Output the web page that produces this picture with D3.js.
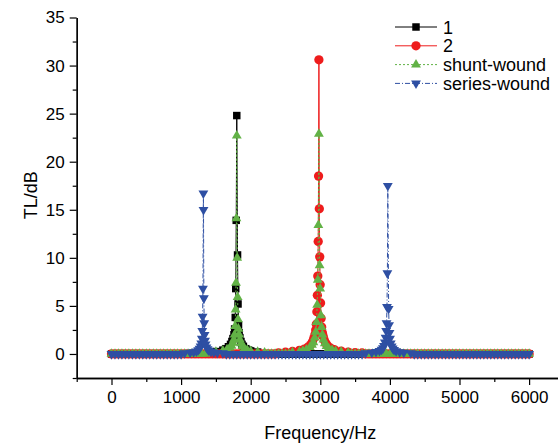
<!DOCTYPE html>
<html>
<head>
<meta charset="utf-8">
<script src="https://cdn.jsdelivr.net/npm/d3@7"></script>
<style>
  body { margin: 0; background: #fff; }
  text { font-family: "Liberation Sans", Arial, sans-serif; fill: #000; }
</style>
</head>
<body>
<div id="chart"></div>
<script>
// sampling grid of the flat part of every curve (Hz)
var baseFreq = [0,50,100,150,200,250,300,350,400,450,500,550,600,650,700,750,800,850,900,950,
  1000,1050,1100,1150,1200,1250,1300,1350,1400,1450,1500,1550,1600,1650,1700,1750,1800,1850,1900,1950,
  2000,2050,2100,2150,2200,2250,2300,2350,2400,2450,2500,2550,2600,2650,2700,2750,2800,2850,2900,2950,
  3000,3050,3100,3150,3200,3250,3300,3350,3400,3450,3500,3550,3600,3650,3700,3750,3800,3850,3900,3950,
  4000,4050,4100,4150,4200,4250,4300,4350,4400,4450,4500,4550,4600,4650,4700,4750,4800,4850,4900,4950,
  5000,5050,5100,5150,5200,5250,5300,5350,5400,5450,5500,5550,5600,5650,5700,5750,5800,5850,5900,5950,6000];
var baseTL = 0;

// series "1"
var freq1 = [1500,1600,1640,1680,1710,1730,1745,1760,1769,1778,1785,1792,1800,1811,1818,1825,1834,1845,1860,1875,1895,1930,1970,2000,2100];
var tl1   = [0.25,0.4,0.55,0.75,1.0,1.3,1.6,2.0,2.6,3.8,6.8,13.9,24.8,10.3,5.2,3.0,2.2,1.7,1.3,1.0,0.8,0.55,0.4,0.32,0.2];

// series "2"
var freq2 = [2400,2500,2600,2700,2770,2820,2860,2885,2905,2922,2934,2943,2951,2958,2964,2970,2975,2980,2986,2992,2998,3004,3011,3020,3030,3043,3060,3085,3110,3150,3200,3300,3400,3500,3600];
var tl2   = [0.12,0.18,0.26,0.38,0.5,0.7,0.95,1.25,1.6,2.0,2.5,3.1,4.4,6.1,8.1,11.7,18.5,30.6,15.1,10.1,7.2,5.3,3.7,2.8,2.2,1.8,1.4,1.05,0.8,0.6,0.45,0.3,0.2,0.14,0.1];

// shunt-wound, two resonances
var freq3a = [1400,1500,1600,1660,1700,1725,1745,1758,1768,1776,1783,1789,1795,1800,1806,1812,1818,1825,1833,1845,1860,1880,1910,1950,2000,2100,2200];
var tl3a   = [0.15,0.22,0.33,0.48,0.65,0.85,1.15,1.5,2.0,2.9,4.6,7.4,14.1,22.7,10.0,5.9,3.6,2.6,2.0,1.5,1.1,0.8,0.6,0.42,0.3,0.2,0.14];
var freq3b = [2600,2700,2750,2800,2850,2880,2900,2920,2935,2946,2955,2964,2972,2980,2990,2998,3008,3018,3030,3045,3065,3090,3120,3170,3220,3300,3400];
var tl3b   = [0.15,0.25,0.32,0.45,0.7,0.95,1.2,1.7,2.3,3.3,5.1,7.7,13.4,22.9,9.2,6.8,4.0,2.8,2.0,1.5,1.1,0.8,0.6,0.42,0.3,0.2,0.14];

// series-wound, two resonances
var freq4a = [1050,1130,1180,1220,1245,1265,1280,1290,1298,1304,1309,1314,1320,1322,1327,1332,1337,1344,1352,1364,1380,1400,1430,1470,1520,1600];
var tl4a   = [0.1,0.14,0.2,0.28,0.4,0.55,0.8,1.1,1.6,2.4,3.9,6.8,16.7,15.0,5.8,3.2,2.0,1.4,1.0,0.7,0.5,0.35,0.25,0.18,0.12,0.1];
var freq4b = [3650,3740,3800,3850,3880,3900,3915,3928,3938,3946,3952,3958,3964,3970,3982,3988,3994,4002,4012,4025,4040,4060,4090,4140,4200,4300];
var tl4b   = [0.1,0.15,0.22,0.32,0.45,0.6,0.85,1.2,1.7,2.4,3.2,4.9,8.4,17.5,4.7,3.0,2.2,1.6,1.1,0.8,0.58,0.42,0.3,0.2,0.14,0.1];

var seriesNames = ["1", "2", "shunt-wound", "series-wound"];
var xMajorTicks = [0, 1000, 2000, 3000, 4000, 5000, 6000];
var yMajorTicks = [0, 5, 10, 15, 20, 25, 30, 35];

var svgWidth = 558;
var svgHeight = 445;

var svg = d3.select("#chart")
  .append("svg")
  .attr("width", svgWidth)
  .attr("height", svgHeight)
  .style("display", "block");

svg.append("rect").attr("width", svgWidth).attr("height", svgHeight).attr("fill", "#fff");

var x = d3.scaleLinear().domain([-500, 6500]).range([76.7, 563.9]);
var y = d3.scaleLinear().domain([-2.5, 35]).range([378, 17.5]);

// flat grid points outside the peak windows + the peak points
function buildSeries(peaks) {
  var pts = [];
  baseFreq.forEach(function(f) {
    var inside = peaks.some(function(p) { return f >= d3.min(p[0]) && f <= d3.max(p[0]); });
    if (!inside) pts.push({ f: f, tl: baseTL });
  });
  peaks.forEach(function(p) {
    p[0].forEach(function(f, i) { pts.push({ f: f, tl: p[1][i] }); });
  });
  return pts.sort(function(a, b) { return a.f - b.f; });
}

var series = [
  { name: seriesNames[0], data: buildSeries([[freq1, tl1]]), color: "#000000", dash: null, symbol: d3.symbolSquare, size: 56 },
  { name: seriesNames[1], data: buildSeries([[freq2, tl2]]), color: "#ee1c1c", dash: null, symbol: d3.symbolCircle, size: 68 },
  { name: seriesNames[2], data: buildSeries([[freq3a, tl3a], [freq3b, tl3b]]), color: "#62b246", dash: "2,2", symbol: d3.symbolTriangle, size: 42, rot: 0 },
  { name: seriesNames[3], data: buildSeries([[freq4a, tl4a], [freq4b, tl4b]]), color: "#2e4fa3", dash: "5,2,1,2", symbol: d3.symbolTriangle, size: 42, rot: 180 }
];

var line = d3.line().x(function(d) { return x(d.f); }).y(function(d) { return y(d.tl); });

// axes
var xMinor = d3.range(-500, 6501, 1000);
var yMinor = d3.range(-2.5, 35, 5);

svg.append("g")
  .attr("transform", "translate(0," + y(-2.5) + ")")
  .call(d3.axisBottom(x).tickValues(xMinor).tickSize(4).tickSizeOuter(0).tickFormat(""));
svg.append("g")
  .attr("transform", "translate(0," + y(-2.5) + ")")
  .call(d3.axisBottom(x).tickValues(xMajorTicks).tickSize(7).tickSizeOuter(0).tickPadding(6).tickFormat(d3.format("d")));

svg.append("g")
  .attr("transform", "translate(" + x(-500) + ",0)")
  .call(d3.axisLeft(y).tickValues(yMinor).tickSize(4).tickSizeOuter(0).tickFormat(""));
svg.append("g")
  .attr("transform", "translate(" + x(-500) + ",0)")
  .call(d3.axisLeft(y).tickValues(yMajorTicks).tickSize(7).tickSizeOuter(0).tickPadding(5).tickFormat(d3.format("d")));

svg.selectAll(".domain").attr("stroke", "#000").attr("stroke-width", 1.3);
svg.selectAll(".tick line").attr("stroke", "#000").attr("stroke-width", 1.2);
svg.selectAll(".tick text").style("font-size", "17px").style("font-family", "'Liberation Sans', Arial, sans-serif");

// curves
series.forEach(function(s) {
  var g = svg.append("g");
  g.append("path")
    .datum(s.data)
    .attr("fill", "none")
    .attr("stroke", s.color)
    .attr("stroke-width", 1)
    .attr("stroke-dasharray", s.dash)
    .attr("d", line);
  g.selectAll("path.pt")
    .data(s.data)
    .enter()
    .append("path")
    .attr("class", "pt")
    .attr("d", d3.symbol().type(s.symbol).size(s.size))
    .attr("transform", function(d) { return "translate(" + x(d.f) + "," + y(d.tl) + ")" + (s.rot ? " rotate(" + s.rot + ")" : ""); })
    .attr("fill", s.color);
});

// legend
var legend = svg.append("g").attr("transform", "translate(395,27)");
series.forEach(function(s, i) {
  var row = legend.append("g").attr("transform", "translate(0," + (i * 18.8) + ")");
  row.append("line")
    .attr("x1", 0).attr("x2", 42)
    .attr("stroke", s.color)
    .attr("stroke-width", 1)
    .attr("stroke-dasharray", s.dash);
  row.append("path")
    .attr("d", d3.symbol().type(s.symbol).size(s.size))
    .attr("transform", "translate(21,0)" + (s.rot ? " rotate(" + s.rot + ")" : ""))
    .attr("fill", s.color);
  row.append("text")
    .attr("x", 48)
    .attr("y", 6.5)
    .style("font-size", "18px")
    .text(s.name);
});

// axis titles
svg.append("text")
  .attr("x", x(3000))
  .attr("y", 439)
  .style("text-anchor", "middle")
  .style("font-size", "18px")
  .text("Frequency/Hz");

svg.append("text")
  .attr("transform", "rotate(-90)")
  .attr("x", -y(16.5))
  .attr("y", 37)
  .style("text-anchor", "middle")
  .style("font-size", "18px")
  .text("TL/dB");
</script>
</body>
</html>
